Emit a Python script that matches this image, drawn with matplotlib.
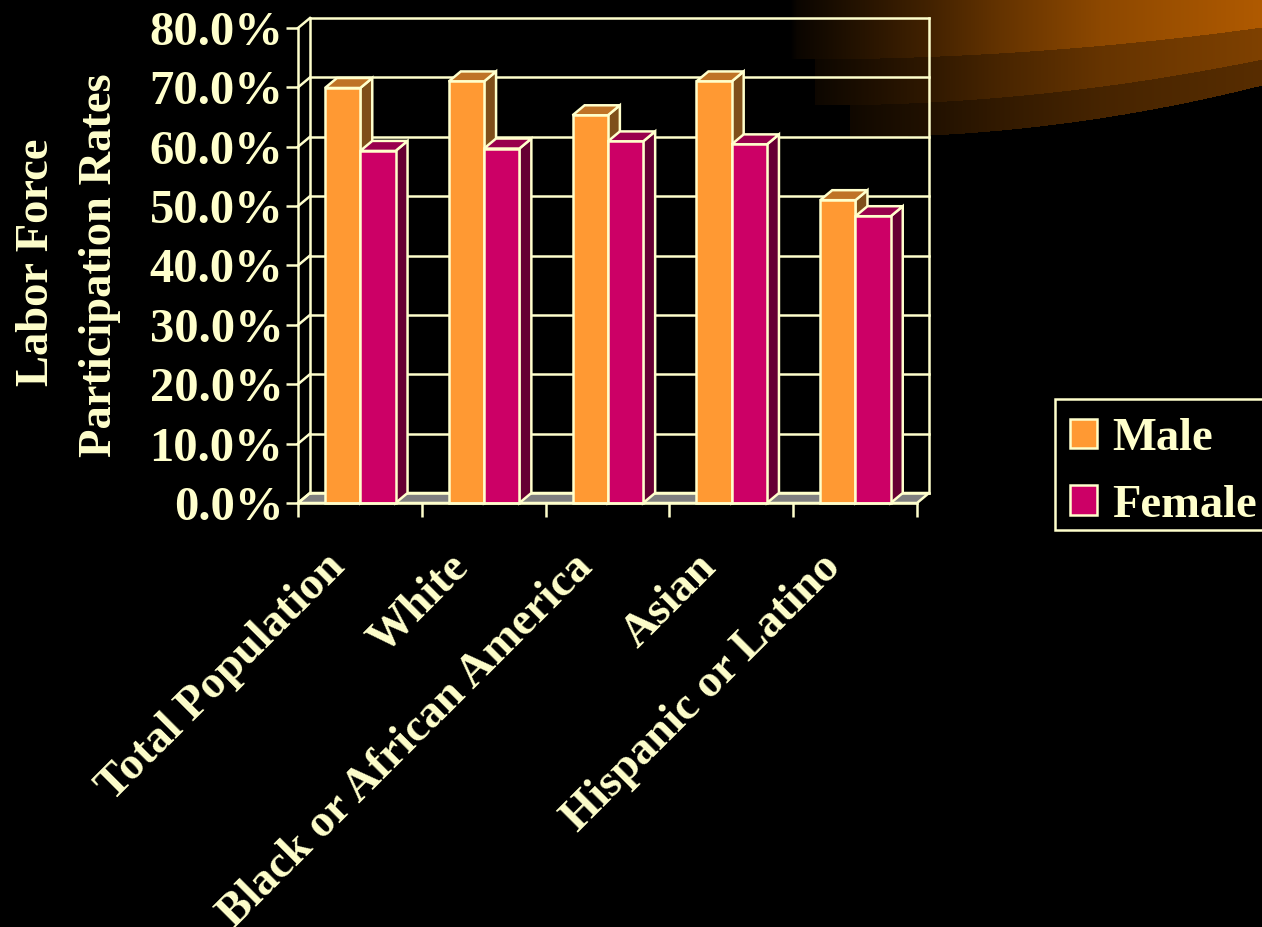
import numpy as np
import matplotlib
matplotlib.use('Agg')
import matplotlib.pyplot as plt
from matplotlib.patches import Patch, Rectangle

categories = ['Total Population', 'White', 'Black or African America', 'Asian', 'Hispanic or Latino']
male = [69.9, 71.0, 65.3, 71.0, 51.0]
female = [59.3, 59.7, 60.9, 60.4, 48.3]
y_ticks = [0, 10, 20, 30, 40, 50, 60, 70, 80]

W, H = 1262, 927
CREAM = '#FFFFCC'
LW = 1.8
plt.rcParams['font.family'] = ['Liberation Serif', 'DejaVu Serif']
plt.rcParams['font.weight'] = 'bold'
FS = 33.5

fig = plt.figure(figsize=(W / 100, H / 100), dpi=100, facecolor='black')

# swoosh in the top right corner of the slide background
bg = fig.add_axes([0, 0, 1, 1], zorder=0)
bg.axis('off')
xs = np.arange(780, W)
ys = np.arange(0, 145)
gain = np.interp(xs, [790, 797, 930, 1000, 1100, 1262], [0, .06, .38, .57, .8, 1])
edge1 = 59 - 32 * (np.clip(xs - 797, 0, None) / 465) ** 2
edge2 = 105 - 46 * (np.clip(xs - 815, 0, None) / 447) ** 2
edge3 = 137 - 52 * (np.clip(xs - 850, 0, None) / 412) ** 2
img = np.zeros((len(ys), len(xs), 3))
for j, x in enumerate(xs):
    col = np.array([176, 90, 0]) / 255 * gain[j]
    if x >= 850:
        img[ys < edge3[j], j] = col * .5
    if x >= 815:
        img[ys < edge2[j], j] = col * .72
    img[ys < edge1[j], j] = col
bg.imshow(img, extent=(780, W, 145, 0), aspect='auto', interpolation='bilinear')
bg.set_xlim(0, W)
bg.set_ylim(H, 0)

ax = fig.add_axes([298 / W, 1 - 503 / H, (917 - 298) / W, (503 - 28) / H], zorder=1)
ax.patch.set_alpha(0)
ax.set_xlim(0, 5)
ax.set_ylim(0, 80)

# depth of the fake 3d box, in data units
dx = 12 / 123.8
dy = 10 / 5.94

# floor, walls, gridlines
ax.fill([0, dx, 5 + dx, 5], [0, dy, dy, 0], fc='#808080', ec=CREAM, lw=LW, clip_on=False, zorder=1)
for v in y_ticks:
    ax.plot([dx, 5 + dx], [v + dy, v + dy], color=CREAM, lw=LW, clip_on=False, zorder=1)
    ax.plot([0, dx], [v, v + dy], color=CREAM, lw=LW, clip_on=False, zorder=1)
ax.plot([dx, dx], [dy, 80 + dy], color=CREAM, lw=LW, clip_on=False, zorder=1)
ax.plot([5 + dx, 5 + dx], [dy, 80 + dy], color=CREAM, lw=LW, clip_on=False, zorder=1)

# 3d bars, drawn back to front inside each group
off = 0.218
w = 0.285
series = [(male, 0, '#FF9933', '#BF7326', '#7F4F1A'), (female, 1, '#CC0066', '#99004D', '#660033')]
z = 2
for i in range(len(categories)):
    for vals, k, front, top, side in series:
        x0 = i + off + k * w
        v = vals[i]
        ax.fill([x0 + w, x0 + w + dx, x0 + w + dx, x0 + w], [0, dy, v + dy, v], fc=side, ec=CREAM, lw=LW, zorder=z, clip_on=False)
        ax.fill([x0, x0 + dx, x0 + w + dx, x0 + w], [v, v + dy, v + dy, v], fc=top, ec=CREAM, lw=LW, zorder=z, clip_on=False)
        ax.bar(x0, v, width=w, align='edge', color=front, edgecolor=CREAM, linewidth=LW, zorder=z, clip_on=False)
        z += 1

for s in ['top', 'right']:
    ax.spines[s].set_visible(False)
for s in ['left', 'bottom']:
    ax.spines[s].set_color(CREAM)
    ax.spines[s].set_linewidth(LW)
    ax.spines[s].set_zorder(50)

ax.set_yticks(y_ticks)
ax.set_yticklabels(['%.1f%%' % v for v in y_ticks], fontsize=35, color=CREAM, fontweight='bold')
ax.tick_params(axis='y', color=CREAM, width=LW, length=8.6, pad=2)
ax.set_xticks(range(6))
ax.set_xticklabels([])
ax.tick_params(axis='x', which='major', color=CREAM, width=LW, length=10)
ax.set_xticks(np.arange(len(categories)) + .21, minor=True)
ax.set_xticklabels(categories, minor=True, rotation=45, ha='right', va='top', rotation_mode='anchor',
                   fontsize=FS, color=CREAM, fontweight='bold')
ax.tick_params(axis='x', which='minor', length=0, pad=31)

fig.text(37 / W, 1 - 262 / H, 'Labor Force', rotation=90, ha='center', va='center', fontsize=FS, color=CREAM, fontweight='bold')
fig.text(100 / W, 1 - 265 / H, 'Participation Rates', rotation=90, ha='center', va='center', fontsize=FS, color=CREAM, fontweight='bold')

# legend box is cut by the right edge of the slide, same as in the original
fig.add_artist(Rectangle((1055 / W, 1 - 530 / H), 220 / W, 131 / H, transform=fig.transFigure, fc='black', ec=CREAM, lw=LW, zorder=3))
handles = [Patch(fc='#FF9933', ec=CREAM, lw=LW), Patch(fc='#CC0066', ec=CREAM, lw=LW)]
leg = fig.legend(handles, ['Male', 'Female'], loc='upper left', bbox_to_anchor=(1055 / W, 1 - 403 / H),
                 borderaxespad=0, frameon=False, fontsize=FS, labelcolor=CREAM, handlelength=.58,
                 handleheight=.6, handletextpad=.32, labelspacing=.53, borderpad=.32)
leg.set_zorder(4)

fig.savefig('out.png', dpi=100, facecolor='black')
